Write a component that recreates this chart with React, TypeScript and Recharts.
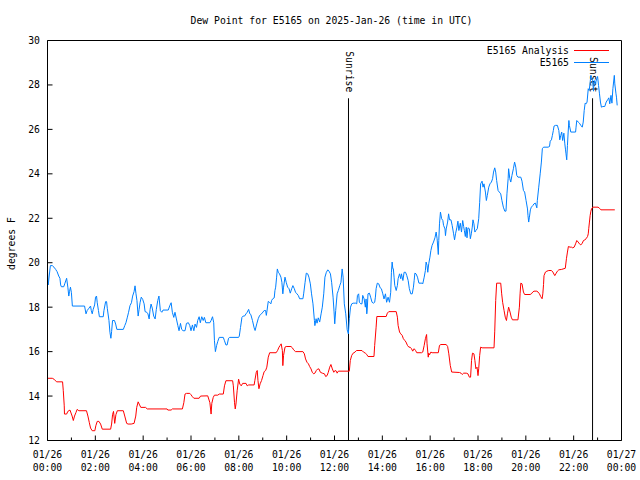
import React from 'react';
import { LineChart, Line, XAxis, YAxis, ReferenceLine } from 'recharts';

const FONT = '"DejaVu Sans Mono", "Liberation Mono", monospace';
const FS = 9.75;

const titleText = 'Dew Point for E5165 on 2025-Jan-26 (time in UTC)';
const yAxisTitle = 'degrees F';
const seriesNames = ['E5165 Analysis', 'E5165'];
const seriesColors = ['#ff0000', '#0080ff'];

const xAllTicks = [0, 1, 2, 3, 4, 5, 6, 7, 8, 9, 10, 11, 12, 13, 14, 15, 16, 17, 18, 19, 20, 21, 22, 23, 24];
const majorHours = [0, 2, 4, 6, 8, 10, 12, 14, 16, 18, 20, 22, 24];
const majorDates = ['01/26', '01/26', '01/26', '01/26', '01/26', '01/26', '01/26', '01/26', '01/26', '01/26', '01/26', '01/26', '01/27'];
const majorTimes = ['00:00', '02:00', '04:00', '06:00', '08:00', '10:00', '12:00', '14:00', '16:00', '18:00', '20:00', '22:00', '00:00'];
const yTicks = [12, 14, 16, 18, 20, 22, 24, 26, 28, 30];

const sunEvents = [
  { name: 'Sunrise', h: 12.585 },
  { name: 'Sunset', h: 22.79 },
];
const sunLineTop = 27.4;

// E5165 Analysis (red): [hour, degF]
const analysis: [number, number][] = [
  [0.0, 14.8], [0.2, 14.8], [0.27, 14.76], [0.38, 14.64], [0.63, 14.64], [0.66, 14.24], [0.7, 13.56], [0.71, 13.19],
  [0.8, 13.19], [0.85, 13.31], [0.94, 13.37], [1.03, 13.1], [1.08, 12.9], [1.13, 13.1], [1.19, 13.26], [1.24, 13.4],
  [1.31, 13.34], [1.63, 13.34], [1.69, 13.1], [1.75, 12.8], [1.8, 12.56], [1.87, 12.44], [1.98, 12.44], [2.02, 12.66],
  [2.08, 12.86], [2.15, 12.86], [2.22, 12.74], [2.29, 12.51], [2.64, 12.51], [2.68, 12.74], [2.72, 13.16], [2.76, 13.31],
  [2.81, 12.77], [2.86, 13.16], [2.92, 13.34], [3.17, 13.34], [3.23, 13.1], [3.31, 12.77], [3.37, 12.74], [3.5, 12.74],
  [3.62, 12.77], [3.69, 13.1], [3.73, 13.49], [3.79, 13.74], [3.85, 13.6], [3.9, 13.49], [4.1, 13.49], [4.17, 13.42],
  [5.0, 13.42], [5.03, 13.37], [5.17, 13.37], [5.22, 13.42], [5.64, 13.42], [5.7, 13.7], [5.75, 14.09], [5.81, 14.12],
  [5.95, 14.12], [6.0, 14.06], [6.06, 13.97], [6.12, 13.9], [6.34, 13.9], [6.4, 14.0], [6.7, 14.01], [6.79, 13.7],
  [6.84, 13.19], [6.87, 13.67], [6.93, 13.94], [6.98, 14.04], [7.12, 14.04], [7.18, 14.09], [7.35, 14.09], [7.4, 14.46],
  [7.46, 14.69], [7.74, 14.69], [7.77, 14.46], [7.82, 13.7], [7.85, 13.42], [7.88, 13.64], [7.93, 14.24], [7.99, 14.76],
  [8.04, 14.54], [8.1, 14.46], [8.16, 14.57], [8.3, 14.57], [8.35, 14.46], [8.41, 14.5], [8.64, 14.5], [8.67, 14.7],
  [8.73, 15.07], [8.77, 15.15], [8.8, 14.7], [8.84, 14.33], [8.89, 14.55], [8.95, 14.7], [9.01, 14.92], [9.06, 15.1],
  [9.12, 15.15], [9.17, 15.3], [9.23, 15.75], [9.29, 15.95], [9.56, 15.95], [9.62, 16.05], [9.68, 16.2], [9.73, 16.28],
  [9.77, 16.35], [9.82, 16.05], [9.84, 15.37], [9.87, 15.83], [9.93, 16.2], [9.98, 16.23], [10.18, 16.23], [10.24, 16.17],
  [10.29, 16.08], [10.37, 16.0], [10.68, 16.0], [10.74, 15.9], [10.79, 15.67], [10.85, 15.52], [10.91, 15.45], [10.96, 15.33],
  [11.02, 15.22], [11.07, 15.07], [11.13, 15.0], [11.18, 15.03], [11.24, 15.15], [11.3, 15.22], [11.35, 15.22], [11.41, 15.07],
  [11.49, 15.03], [11.58, 15.0], [11.63, 14.88], [11.69, 14.92], [11.74, 15.07], [11.8, 15.3], [11.85, 15.42], [11.91, 15.22],
  [11.97, 15.07], [12.02, 15.15], [12.08, 15.12], [12.11, 15.03], [12.16, 15.12], [12.62, 15.12], [12.66, 15.6], [12.72, 15.83],
  [12.78, 15.93], [12.86, 15.98], [12.92, 16.05], [13.15, 16.05], [13.21, 15.98], [13.29, 15.93], [13.35, 15.87], [13.4, 15.78],
  [13.65, 15.78], [13.68, 16.28], [13.74, 17.1], [13.77, 17.58], [14.16, 17.58], [14.21, 17.73], [14.27, 17.8], [14.58, 17.8],
  [14.63, 17.55], [14.66, 17.18], [14.72, 16.88], [14.77, 16.8], [14.83, 16.73], [14.88, 16.58], [14.94, 16.5], [14.99, 16.43],
  [15.05, 16.28], [15.11, 16.2], [15.16, 16.2], [15.22, 16.13], [15.27, 16.02], [15.33, 16.13], [15.39, 16.05], [15.44, 15.95],
  [15.64, 15.95], [15.69, 15.98], [15.75, 16.28], [15.8, 16.58], [15.85, 16.77], [15.87, 16.35], [15.92, 15.75], [15.94, 15.93],
  [15.97, 15.85], [16.03, 15.98], [16.08, 15.95], [16.34, 15.95], [16.39, 16.28], [16.45, 16.32], [16.67, 16.32], [16.73, 16.23],
  [16.78, 15.9], [16.84, 15.38], [16.9, 15.08], [17.23, 15.06], [17.29, 15.03], [17.34, 14.97], [17.4, 15.03], [17.51, 15.03],
  [17.58, 15.0], [17.64, 14.85], [17.69, 14.85], [17.73, 15.6], [17.77, 15.93], [17.83, 15.9], [17.87, 15.6], [17.91, 15.23],
  [17.96, 15.3], [18.0, 14.92], [18.03, 15.23], [18.07, 15.83], [18.11, 16.2], [18.17, 16.17], [18.67, 16.17], [18.7, 16.92],
  [18.74, 18.3], [18.78, 19.08], [18.95, 19.08], [18.99, 18.6], [19.03, 18.22], [19.09, 17.85], [19.14, 17.55], [19.19, 17.4],
  [19.23, 17.7], [19.28, 18.0], [19.34, 17.78], [19.39, 17.55], [19.44, 17.43], [19.67, 17.43], [19.73, 18.0], [19.76, 18.6],
  [19.79, 19.08], [19.84, 19.05], [19.9, 18.68], [19.95, 18.57], [20.18, 18.57], [20.23, 18.6], [20.29, 18.68], [20.34, 18.72],
  [20.46, 18.72], [20.51, 18.68], [20.57, 18.6], [20.62, 18.48], [20.68, 18.38], [20.71, 18.6], [20.74, 19.02], [20.76, 19.42],
  [20.82, 19.58], [20.88, 19.62], [20.96, 19.65], [21.07, 19.65], [21.13, 19.58], [21.21, 19.42], [21.27, 19.53], [21.32, 19.62],
  [21.38, 19.68], [21.5, 19.7], [21.65, 19.75], [21.7, 20.2], [21.74, 20.48], [21.78, 20.73], [21.85, 20.7], [21.91, 20.7],
  [21.96, 20.67], [22.02, 20.7], [22.08, 20.85], [22.13, 21.0], [22.19, 20.93], [22.24, 20.85], [22.3, 20.8], [22.36, 20.88],
  [22.41, 21.0], [22.47, 21.03], [22.52, 21.08], [22.58, 21.18], [22.61, 21.3], [22.63, 21.53], [22.66, 21.83], [22.69, 22.13],
  [22.72, 22.32], [22.75, 22.43], [22.8, 22.5], [23.02, 22.5], [23.08, 22.45], [23.14, 22.38], [23.72, 22.38],
];

// E5165 observations (blue): [hour, degF]
const observed: [number, number][] = [
  [0.0, 19.6], [0.03, 19.0], [0.12, 19.87], [0.2, 19.87], [0.27, 19.8], [0.34, 19.7], [0.4, 19.6], [0.47, 19.4],
  [0.52, 19.3], [0.55, 19.0], [0.58, 18.92], [0.68, 18.92], [0.72, 19.05], [0.8, 19.3], [0.85, 18.9], [0.89, 18.5],
  [0.92, 18.7], [0.96, 18.9], [1.0, 18.65], [1.04, 18.05], [1.55, 18.05], [1.61, 17.7], [1.66, 17.85], [1.73, 17.95],
  [1.8, 18.05], [1.83, 17.85], [1.87, 17.7], [1.91, 17.9], [1.97, 18.1], [2.01, 18.45], [2.05, 18.5], [2.08, 18.2],
  [2.13, 17.85], [2.17, 17.57], [2.33, 17.57], [2.36, 17.85], [2.43, 18.25], [2.47, 18.25], [2.5, 17.95], [2.57, 17.4],
  [2.61, 16.87], [2.65, 16.6], [2.68, 16.9], [2.72, 17.4], [2.8, 17.4], [2.85, 17.24], [2.9, 17.0], [3.17, 17.0],
  [3.23, 17.17], [3.28, 17.3], [3.34, 17.55], [3.39, 17.77], [3.45, 18.07], [3.51, 18.2], [3.56, 18.5], [3.62, 18.7],
  [3.66, 18.96], [3.7, 18.6], [3.74, 18.3], [3.79, 17.6], [3.83, 17.9], [3.87, 18.2], [3.92, 18.45], [3.98, 18.35],
  [4.04, 18.15], [4.08, 17.8], [4.15, 17.77], [4.2, 17.7], [4.25, 17.47], [4.29, 17.9], [4.33, 18.14], [4.38, 17.96],
  [4.44, 17.6], [4.5, 17.47], [4.55, 17.9], [4.61, 18.3], [4.66, 18.5], [4.72, 17.84], [4.78, 17.77], [4.83, 17.87],
  [5.05, 17.87], [5.11, 18.06], [5.17, 18.2], [5.22, 17.77], [5.28, 17.54], [5.33, 17.77], [5.39, 17.47], [5.45, 17.17],
  [5.5, 16.94], [5.56, 17.27], [5.61, 17.0], [5.67, 16.94], [5.75, 16.94], [5.81, 17.27], [5.89, 17.3], [5.95, 17.17],
  [6.0, 16.94], [6.06, 17.2], [6.12, 16.94], [6.17, 17.24], [6.23, 17.09], [6.28, 17.4], [6.34, 17.57], [6.39, 17.3],
  [6.45, 17.57], [6.51, 17.4], [6.56, 17.54], [6.62, 17.3], [6.79, 17.3], [6.84, 17.4], [6.9, 17.57], [6.95, 17.3],
  [6.98, 16.49], [7.02, 16.0], [7.07, 16.27], [7.12, 16.46], [7.18, 16.64], [7.35, 16.64], [7.4, 16.49], [7.46, 16.3],
  [7.51, 16.3], [7.57, 16.6], [7.62, 16.64], [7.99, 16.64], [8.02, 16.7], [8.07, 17.09], [8.13, 17.54], [8.18, 17.6],
  [8.24, 17.6], [8.3, 17.7], [8.35, 17.77], [8.41, 17.9], [8.46, 17.7], [8.5, 17.67], [8.57, 17.4], [8.64, 17.07],
  [8.68, 16.95], [8.75, 17.25], [8.81, 17.48], [8.87, 17.63], [8.92, 17.67], [9.01, 17.78], [9.06, 17.85], [9.12, 17.85],
  [9.15, 17.63], [9.17, 17.78], [9.23, 18.26], [9.28, 18.22], [9.34, 18.15], [9.37, 18.3], [9.42, 18.38], [9.48, 18.42],
  [9.51, 18.75], [9.54, 18.9], [9.58, 19.35], [9.61, 19.72], [9.65, 19.57], [9.7, 19.5], [9.76, 19.35], [9.8, 19.12],
  [9.84, 18.6], [9.87, 18.9], [9.93, 19.35], [9.98, 19.12], [10.04, 18.9], [10.1, 18.83], [10.15, 18.63], [10.21, 18.83],
  [10.26, 18.97], [10.32, 18.83], [10.37, 18.67], [10.43, 18.6], [10.49, 18.52], [10.54, 18.38], [10.68, 18.38], [10.71, 18.6],
  [10.77, 19.12], [10.82, 19.53], [10.88, 19.5], [10.93, 19.35], [10.99, 19.05], [11.04, 18.6], [11.1, 18.15], [11.16, 17.4],
  [11.18, 17.17], [11.23, 17.48], [11.27, 17.28], [11.32, 17.52], [11.38, 17.33], [11.44, 17.7], [11.49, 18.0], [11.55, 18.6],
  [11.6, 19.35], [11.66, 19.57], [11.72, 19.68], [11.77, 19.62], [11.83, 19.5], [11.88, 19.12], [11.94, 18.45], [11.98, 17.82],
  [12.01, 17.25], [12.05, 17.85], [12.11, 18.6], [12.16, 18.75], [12.22, 18.97], [12.27, 19.12], [12.32, 19.72], [12.36, 19.35],
  [12.41, 18.15], [12.47, 17.7], [12.53, 16.98], [12.58, 16.8], [12.62, 17.48], [12.67, 18.0], [12.72, 18.15], [12.78, 18.18],
  [12.89, 18.18], [12.93, 18.15], [12.96, 18.53], [13.01, 18.6], [13.04, 18.22], [13.1, 18.15], [13.15, 18.15], [13.18, 18.53],
  [13.24, 18.37], [13.29, 18.0], [13.32, 18.37], [13.35, 17.7], [13.37, 17.92], [13.4, 18.6], [13.46, 18.63], [13.51, 18.45],
  [13.57, 18.22], [13.63, 18.18], [13.68, 18.22], [13.71, 18.45], [13.74, 18.83], [13.79, 19.08], [13.85, 19.05], [13.91, 18.87],
  [13.96, 18.83], [14.02, 18.6], [14.07, 18.37], [14.13, 18.6], [14.18, 18.22], [14.24, 18.45], [14.3, 18.22], [14.35, 18.67],
  [14.38, 19.57], [14.41, 20.03], [14.44, 19.73], [14.46, 19.73], [14.49, 19.35], [14.52, 18.98], [14.58, 18.75], [14.63, 18.98],
  [14.66, 19.28], [14.72, 19.5], [14.77, 19.28], [14.8, 19.5], [14.86, 19.2], [14.91, 19.57], [14.97, 19.57], [15.02, 19.43],
  [15.08, 19.2], [15.13, 18.83], [15.19, 18.6], [15.25, 18.6], [15.3, 18.9], [15.33, 19.2], [15.36, 19.53], [15.41, 19.5],
  [15.47, 19.35], [15.53, 19.08], [15.67, 19.08], [15.69, 19.05], [15.75, 19.35], [15.8, 19.65], [15.83, 20.03], [15.87, 19.88],
  [15.9, 19.57], [15.94, 19.95], [15.99, 20.25], [16.03, 20.55], [16.08, 20.78], [16.14, 20.93], [16.2, 21.12], [16.25, 21.38],
  [16.29, 21.08], [16.34, 20.37], [16.36, 21.0], [16.39, 21.75], [16.43, 22.28], [16.48, 21.98], [16.53, 21.9], [16.56, 21.68],
  [16.62, 21.52], [16.64, 21.22], [16.67, 21.52], [16.73, 21.83], [16.77, 22.2], [16.81, 21.93], [16.87, 21.93], [16.92, 21.68],
  [16.98, 21.3], [17.02, 21.03], [17.06, 21.3], [17.12, 21.6], [17.16, 21.87], [17.2, 21.45], [17.26, 21.78], [17.31, 21.38],
  [17.36, 21.9], [17.4, 21.63], [17.43, 21.45], [17.47, 21.18], [17.51, 21.6], [17.54, 21.12], [17.58, 21.57], [17.64, 21.53],
  [17.68, 21.08], [17.72, 21.3], [17.76, 21.6], [17.79, 21.93], [17.83, 21.75], [17.87, 21.38], [17.91, 21.45], [17.97, 21.53],
  [18.03, 21.98], [18.07, 22.72], [18.11, 23.55], [18.17, 23.67], [18.21, 23.4], [18.25, 23.55], [18.31, 23.18], [18.35, 22.8],
  [18.39, 23.03], [18.45, 23.4], [18.5, 23.55], [18.56, 23.63], [18.61, 23.78], [18.65, 24.08], [18.7, 24.27], [18.74, 24.08],
  [18.78, 23.7], [18.84, 23.25], [18.89, 23.18], [18.95, 23.1], [19.0, 22.8], [19.06, 22.5], [19.12, 22.32], [19.17, 22.32],
  [19.21, 23.1], [19.26, 23.78], [19.28, 24.23], [19.33, 23.78], [19.37, 23.63], [19.42, 23.93], [19.48, 24.23], [19.53, 24.53],
  [19.58, 24.3], [19.62, 23.93], [19.67, 23.85], [19.79, 23.85], [19.84, 23.67], [19.9, 23.25], [19.95, 23.18], [20.01, 22.8],
  [20.07, 22.42], [20.09, 22.12], [20.12, 21.83], [20.15, 22.05], [20.19, 22.38], [20.23, 22.5], [20.29, 22.57], [20.34, 22.65],
  [20.4, 22.68], [20.46, 22.47], [20.48, 22.8], [20.54, 23.4], [20.6, 24.0], [20.65, 24.53], [20.69, 25.13], [20.74, 25.2],
  [20.93, 25.2], [20.99, 25.23], [21.02, 25.47], [21.07, 25.53], [21.11, 25.73], [21.15, 25.95], [21.18, 26.15], [21.24, 26.18],
  [21.32, 26.18], [21.38, 25.95], [21.42, 25.53], [21.46, 25.73], [21.5, 25.88], [21.54, 25.5], [21.59, 25.83], [21.63, 25.35],
  [21.66, 25.08], [21.68, 24.9], [21.71, 24.63], [21.74, 25.28], [21.77, 25.88], [21.8, 26.4], [21.82, 26.18], [21.88, 25.88],
  [22.08, 25.88], [22.1, 26.1], [22.13, 26.4], [22.19, 26.33], [22.24, 26.28], [22.3, 26.18], [22.36, 26.1], [22.4, 26.33],
  [22.44, 26.85], [22.48, 27.18], [22.52, 27.15], [22.56, 27.23], [22.61, 27.83], [22.65, 27.75], [22.69, 28.13], [22.72, 28.43],
  [22.75, 28.35], [22.79, 28.2], [22.83, 27.72], [22.86, 28.2], [22.91, 28.05], [22.96, 28.28], [23.0, 28.38], [23.04, 27.98],
  [23.08, 27.6], [23.12, 27.23], [23.16, 27.0], [23.22, 27.03], [23.3, 27.03], [23.36, 27.23], [23.42, 27.33], [23.47, 27.42],
  [23.51, 27.15], [23.56, 27.53], [23.6, 27.18], [23.64, 27.83], [23.7, 28.43], [23.72, 28.05], [23.77, 27.6], [23.79, 27.45],
  [23.82, 27.08],
];

const analysisData = analysis.map(([h, v]) => ({ h, v }));
const observedData = observed.map(([h, v]) => ({ h, v }));

const textProps = { fontFamily: FONT, fontSize: FS, fill: '#000' };

const BottomTick = (props: any) => {
  const { x, y, payload } = props;
  const idx = majorHours.indexOf(payload.value);
  const len = idx >= 0 ? 5 : 3;
  return (
    <g>
      <line x1={x} x2={x} y1={y} y2={y - len} stroke="#000" strokeWidth={1} />
      {idx >= 0 && (
        <text x={x} y={y + 17} textAnchor="middle" {...textProps}>{majorDates[idx]}</text>
      )}
      {idx >= 0 && (
        <text x={x} y={y + 30} textAnchor="middle" {...textProps}>{majorTimes[idx]}</text>
      )}
    </g>
  );
};

const TopTick = (props: any) => {
  const { x, y, payload } = props;
  const len = majorHours.indexOf(payload.value) >= 0 ? 5 : 3;
  return <line x1={x} x2={x} y1={y} y2={y + len} stroke="#000" strokeWidth={1} />;
};

const LeftTick = (props: any) => {
  const { x, y, payload } = props;
  return (
    <g>
      <line x1={x} x2={x + 5} y1={y} y2={y} stroke="#000" strokeWidth={1} />
      <text x={x - 7.5} y={y + 3.5} textAnchor="end" {...textProps}>{payload.value}</text>
    </g>
  );
};

const RightTick = (props: any) => {
  const { x, y } = props;
  return <line x1={x} x2={x - 5} y1={y} y2={y} stroke="#000" strokeWidth={1} />;
};

const YTitle = (props: any) => {
  const vb = props.viewBox || { x: 0, y: 40, width: 47, height: 400 };
  const cx = vb.x + 11;
  const cy = vb.y + vb.height / 2 + 3;
  return (
    <text transform={`translate(${cx},${cy}) rotate(-90)`} textAnchor="middle" dominantBaseline="central" {...textProps}>
      {yAxisTitle}
    </text>
  );
};

const makeSunShape = (name: string) => (props: any) => {
  const { x1, y1, x2, y2 } = props;
  const top = Math.min(y1, y2);
  return (
    <g>
      <line x1={x1} y1={y1} x2={x2} y2={y2} stroke="#000" strokeWidth={1} />
      <text
        transform={`translate(${x1 + 1},${top - 6}) rotate(90)`}
        textAnchor="end"
        dominantBaseline="central"
        {...textProps}
      >
        {name}
      </text>
    </g>
  );
};

export default function App() {
  return (
    <div style={{ position: 'absolute', left: 0, top: 0, width: 640, height: 480, background: '#fff' }}>
      <LineChart width={640} height={480} margin={{ top: 0, right: 0, bottom: 0, left: 0 }}>
        <XAxis
          xAxisId="b"
          type="number"
          dataKey="h"
          domain={[0, 24]}
          ticks={xAllTicks}
          interval={0}
          height={39.5}
          tickSize={0}
          tickMargin={0}
          axisLine={{ stroke: '#000' }}
          tickLine={false}
          tick={(p: any) => <BottomTick {...p} />}
        />
        <XAxis
          xAxisId="t"
          orientation="top"
          type="number"
          dataKey="h"
          domain={[0, 24]}
          ticks={xAllTicks}
          interval={0}
          height={40.5}
          tickSize={0}
          tickMargin={0}
          axisLine={{ stroke: '#000' }}
          tickLine={false}
          tick={(p: any) => <TopTick {...p} />}
        />
        <YAxis
          yAxisId="l"
          type="number"
          domain={[12, 30]}
          ticks={yTicks}
          interval={0}
          width={47.5}
          tickSize={0}
          tickMargin={0}
          axisLine={{ stroke: '#000' }}
          tickLine={false}
          tick={(p: any) => <LeftTick {...p} />}
          label={<YTitle />}
        />
        <YAxis
          yAxisId="r"
          orientation="right"
          type="number"
          domain={[12, 30]}
          ticks={yTicks}
          interval={0}
          width={18.5}
          tickSize={0}
          tickMargin={0}
          axisLine={{ stroke: '#000' }}
          tickLine={false}
          tick={(p: any) => <RightTick {...p} />}
        />
        {sunEvents.map((s) => (
          <ReferenceLine
            key={s.name}
            xAxisId="b"
            yAxisId="l"
            segment={[{ x: s.h, y: 12 }, { x: s.h, y: sunLineTop }]}
            stroke="#000"
            shape={makeSunShape(s.name)}
          />
        ))}
        <Line
          xAxisId="b"
          yAxisId="l"
          data={analysisData}
          dataKey="v"
          type="linear"
          stroke={seriesColors[0]}
          strokeWidth={1}
          dot={false}
          activeDot={false}
          isAnimationActive={false}
        />
        <Line
          xAxisId="b"
          yAxisId="l"
          data={observedData}
          dataKey="v"
          type="linear"
          stroke={seriesColors[1]}
          strokeWidth={1}
          dot={false}
          activeDot={false}
          isAnimationActive={false}
        />
      </LineChart>
      <svg width={640} height={480} style={{ position: 'absolute', left: 0, top: 0, pointerEvents: 'none' }}>
        <text x={331.5} y={24} textAnchor="middle" {...textProps}>{titleText}</text>
        {seriesNames.map((name, i) => (
          <g key={name}>
            <text x={569} y={53.5 + i * 12} textAnchor="end" {...textProps}>{name}</text>
            <line x1={574} x2={609} y1={50.5 + i * 12} y2={50.5 + i * 12} stroke={seriesColors[i]} strokeWidth={1} />
          </g>
        ))}
      </svg>
    </div>
  );
}
